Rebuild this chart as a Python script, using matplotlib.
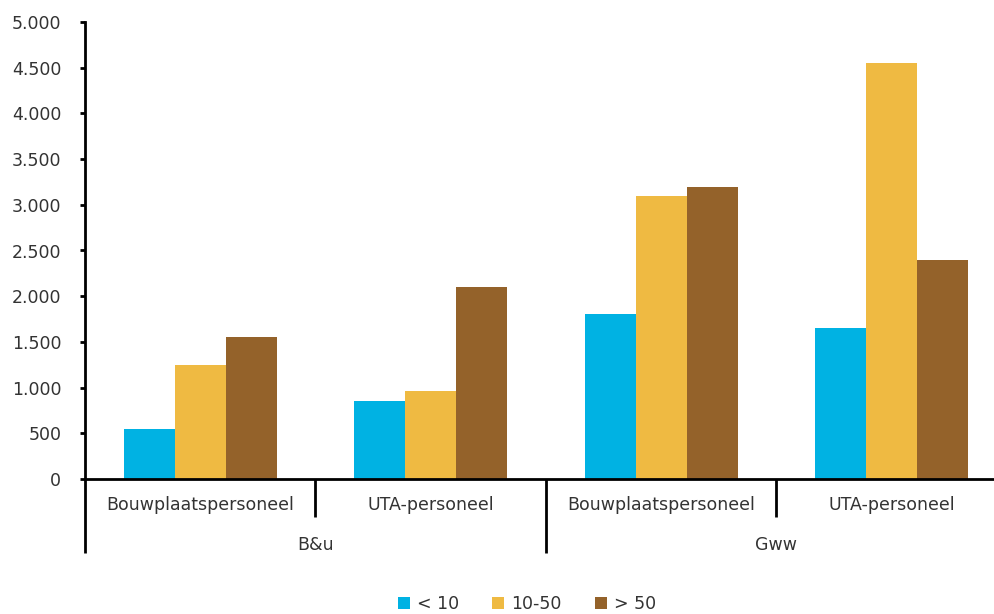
import matplotlib
matplotlib.use("Agg")
import matplotlib.pyplot as plt
from matplotlib.ticker import FuncFormatter, MultipleLocator
from matplotlib.patches import Patch
import numpy as np

plt.rcParams['font.family'] = ['DejaVu Sans']

# Data
sectors = ["B&u", "Gww"]
staff_types = ["Bouwplaatspersoneel", "UTA-personeel"]
series_names = ["< 10", "10-50", "> 50"]
small = [550, 850, 1800, 1650]      # < 10
medium = [1250, 960, 3100, 4550]    # 10-50
large = [1550, 2100, 3200, 2400]    # > 50
colors = ["#00B2E3", "#EFBA42", "#94622A"]

text_color = "#333333"

fig = plt.figure(figsize=(9.95, 6.14), dpi=100)
ax = fig.add_axes([85 / 995, (614 - 479) / 614, (1007 - 85) / 995, (479 - 22) / 614])

n_groups = len(small)
x = np.arange(n_groups)
width = 0.221
for i, (vals, col) in enumerate(zip([small, medium, large], colors)):
    ax.bar(x + (i - 1) * width, vals, width=width, color=col, edgecolor='none',
           label=series_names[i], zorder=2)

ax.set_xlim(-0.5, n_groups - 0.5)
ax.set_ylim(0, 5000)
ax.yaxis.set_major_locator(MultipleLocator(500))
ax.yaxis.set_major_formatter(FuncFormatter(lambda v, p: f"{int(v):,}".replace(",", ".")))

for side in ["top", "right"]:
    ax.spines[side].set_visible(False)
ax.spines["left"].set_linewidth(2)
ax.spines["bottom"].set_linewidth(2)
ax.tick_params(axis='y', direction='out', length=3.6, width=2, labelsize=12.5,
               labelcolor=text_color, pad=13.5)
ax.set_xticks([])

# Two-level category axis
trans = ax.get_xaxis_transform()
short_y, long_y = -0.083, -0.162
for k in range(n_groups + 1):
    xb = k - 0.5
    y_end = long_y if k % 2 == 0 else short_y
    ax.plot([xb, xb], [0, y_end], transform=trans, color='black', lw=2,
            clip_on=False, solid_capstyle='butt')

for k in range(n_groups):
    ax.text(k, -0.057, staff_types[k % 2], transform=trans, ha='center', va='center',
            fontsize=12.5, color=text_color)
for j, s in enumerate(sectors):
    ax.text(2 * j + 0.5, -0.144, s, transform=trans, ha='center', va='center',
            fontsize=12.5, color=text_color)

handles = [Patch(facecolor=c, edgecolor='none') for c in colors]
fig.legend(handles, series_names, loc='center', bbox_to_anchor=(527 / 995, 1 - 604 / 614),
           ncol=3, frameon=False, fontsize=12.5, handlelength=0.7, handleheight=0.7,
           handletextpad=0.4, columnspacing=1.9, labelcolor=text_color)

fig.savefig("out.png", dpi=100)
